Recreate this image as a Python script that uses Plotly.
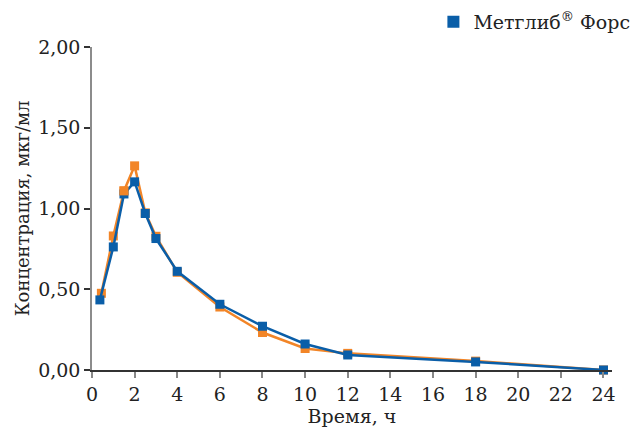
import plotly.graph_objects as go

# Time (h) and concentration (mcg/ml)
time_blue = [0.37, 1, 1.5, 2, 2.5, 3, 4, 6, 8, 10, 12, 18, 24]
conc_blue = [0.434, 0.762, 1.09, 1.165, 0.969, 0.814, 0.611, 0.407, 0.271, 0.161, 0.093, 0.05, 0.0]

time_orange = [0.44, 1, 1.5, 2, 2.5, 3, 4, 6, 8, 10, 12, 18, 24]
conc_orange = [0.475, 0.83, 1.109, 1.264, 0.973, 0.828, 0.605, 0.39, 0.232, 0.133, 0.103, 0.055, 0.0]

x_ticks = list(range(0, 25, 2))
y_ticks = [0, 0.5, 1.0, 1.5, 2.0]

legend_name = "Метглиб<sup>®</sup> Форс"
x_title = "Время, ч"
y_title = "Концентрация, мкг/мл"

BLUE = "#0a5ea8"
ORANGE = "#f28527"
FONT = "DejaVu Serif"
TXT = "#222"

fig = go.Figure()
fig.add_trace(go.Scatter(
    x=time_orange, y=conc_orange, mode="lines+markers",
    line=dict(color=ORANGE, width=2.5),
    marker=dict(symbol="square", size=9, color=ORANGE),
    showlegend=False, cliponaxis=False))
fig.add_trace(go.Scatter(
    x=time_blue, y=conc_blue, mode="lines+markers",
    line=dict(color=BLUE, width=2.5),
    marker=dict(symbol="square", size=9, color=BLUE),
    showlegend=False, cliponaxis=False))
# orange marker at 1.5 h lies over the blue one in the reference
fig.add_trace(go.Scatter(
    x=[time_orange[2]], y=[conc_orange[2]], mode="markers",
    marker=dict(symbol="square", size=9, color=ORANGE),
    showlegend=False, cliponaxis=False))
fig.add_trace(go.Scatter(
    x=[None], y=[None], mode="markers", name=legend_name,
    marker=dict(symbol="square", size=12, color=BLUE)))

fig.update_layout(
    width=633, height=438,
    margin=dict(l=92, r=21, t=47, b=68, autoexpand=False),
    paper_bgcolor="white", plot_bgcolor="white",
    font=dict(family=FONT, size=19, color=TXT),
    separators=", ",
    legend=dict(x=1.045, xanchor="right", y=1.078, yanchor="middle",
                font=dict(family=FONT, size=19, color=TXT),
                itemwidth=30, bgcolor="rgba(0,0,0,0)"),
    xaxis=dict(range=[0, 24.4], tickvals=x_ticks, showgrid=False, zeroline=False,
               automargin=False,
               showline=True, linecolor="#333", linewidth=1.5,
               ticks="outside", ticklen=6, tickcolor="#888", tickwidth=1.5,
               tickfont=dict(family=FONT, size=19, color=TXT),
               title=dict(text=x_title, standoff=6, font=dict(family=FONT, size=19, color=TXT))),
    yaxis=dict(range=[0, 2.0], tickvals=y_ticks, tickformat=".2f",
               showgrid=False, zeroline=False, automargin=False,
               showline=True, linecolor="#8c8c8c", linewidth=1.5,
               ticks="outside", ticklen=6, tickcolor="#333", tickwidth=1.5,
               tickfont=dict(family=FONT, size=19, color=TXT),
               title=dict(text=y_title, standoff=4, font=dict(family=FONT, size=18, color=TXT))),
)

fig.write_html("out.html")
